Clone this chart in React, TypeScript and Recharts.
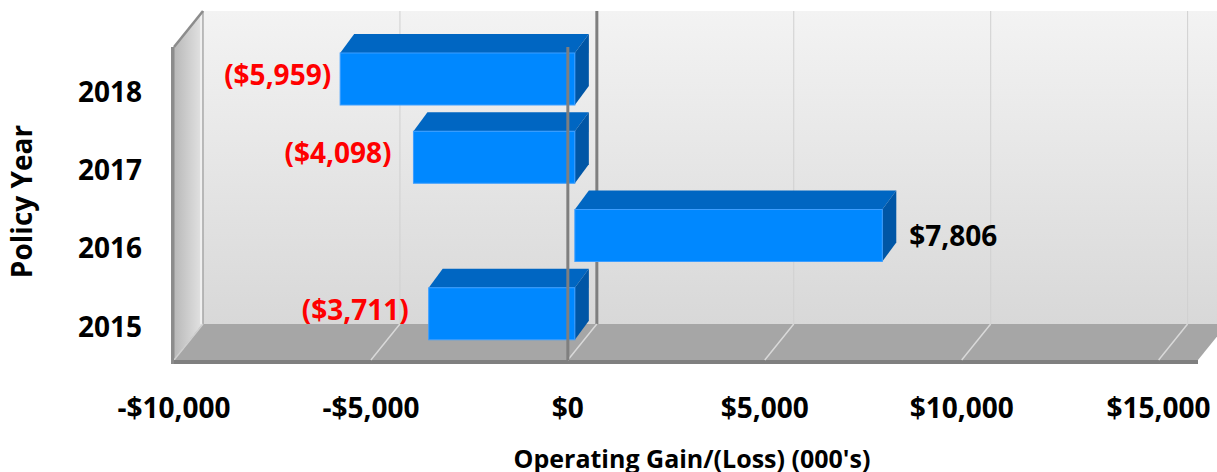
import React from 'react';
import { BarChart, Bar, XAxis, YAxis, ReferenceArea, ReferenceLine, LabelList } from 'recharts';

const YEARS = ['2018', '2017', '2016', '2015'];
const GAINS = [-5959, -4098, 7806, -3711];
const X_TICKS = [-10000, -5000, 0, 5000, 10000, 15000];
const X_DOMAIN: [number, number] = [-10000, 16000];
const X_TITLE = "Operating Gain/(Loss) (000's)";
const Y_TITLE = 'Policy Year';

const data = YEARS.map((year, i) => ({ year, value: GAINS[i] }));

const DX = 29; // room depth (x)
const DY = -36; // room depth (y)
const FX = 7; // bar front face offset from front plane
const FY = -7;
const BX = 14; // bar depth
const BY = -19;
const FONT = "'Open Sans', 'DejaVu Sans', sans-serif";
// style: gap between data label and bar, per bar (as placed in the original)
const LABEL_GAP = [9, 22, 27, 20];

const money = (v: number) => `$${Math.abs(v).toLocaleString('en-US')}`;
const fmtTick = (v: number) => (v < 0 ? `-${money(v)}` : money(v));
const fmtLabel = (v: number) => (v < 0 ? `(${money(v)})` : money(v));

const Room = (p: any) => {
  const { x, y, width: w, height: h } = p;
  const b = y + h;
  return (
    <g>
      <defs>
        <linearGradient id="wallG" x1="0" y1="0" x2="0" y2="1">
          <stop offset="0" stopColor="#F3F3F3" />
          <stop offset="1" stopColor="#D8D8D8" />
        </linearGradient>
        <linearGradient id="sideG" x1="0" y1="0" x2="1" y2="0">
          <stop offset="0" stopColor="#B8B8B8" />
          <stop offset="1" stopColor="#E4E4E4" />
        </linearGradient>
      </defs>
      <rect x={x + DX} y={y + DY} width={w} height={h} fill="url(#wallG)" />
      <polygon
        points={`${x},${y} ${x + DX},${y + DY} ${x + DX},${b + DY} ${x},${b}`}
        fill="url(#sideG)"
        stroke="#8C8C8C"
        strokeWidth={1}
      />
      <line x1={x + DX - 2} y1={y + DY} x2={x + DX - 2} y2={b + DY} stroke="#F4F4F4" strokeWidth={1.5} />
      <polygon
        points={`${x},${b} ${x + DX},${b + DY} ${x + w + DX},${b + DY} ${x + w},${b}`}
        fill="#A6A6A6"
      />
      <line x1={x} y1={b} x2={x + DX} y2={b + DY} stroke="#D0D0D0" strokeWidth={1.5} />
      <line x1={x} y1={y} x2={x + DX} y2={y + DY} stroke="#8C8C8C" strokeWidth={2.5} />
      <rect x={x - 3} y={b} width={w + 3} height={4} fill="#7F7F7F" />
      <rect x={x - 3} y={y} width={3} height={h + 4} fill="#8C8C8C" />
    </g>
  );
};

const GridShape = (isZero: boolean) => (p: any) => {
  const xs = p.x1;
  const top = Math.min(p.y1, p.y2);
  const bot = Math.max(p.y1, p.y2);
  return (
    <g>
      <line
        x1={xs + DX}
        y1={top + DY}
        x2={xs + DX}
        y2={bot + DY}
        stroke={isZero ? '#7F7F7F' : '#D0D0D0'}
        strokeWidth={isZero ? 3 : 1}
      />
      <line x1={xs + DX} y1={bot + DY} x2={xs} y2={bot} stroke="#D9D9D9" strokeWidth={1.5} />
    </g>
  );
};

const Box3D = (p: any) => {
  const l = Math.min(p.x, p.x + p.width);
  const r = Math.max(p.x, p.x + p.width);
  const t = Math.min(p.y, p.y + p.height);
  const bt = Math.max(p.y, p.y + p.height);
  const fl = l + FX;
  const fr = r + FX;
  const ft = t + FY;
  const fb = bt + FY;
  return (
    <g>
      <polygon
        points={`${fl},${ft} ${fl + BX},${ft + BY} ${fr + BX},${ft + BY} ${fr},${ft}`}
        fill="#0066C2"
      />
      <polygon
        points={`${fr},${ft} ${fr + BX},${ft + BY} ${fr + BX},${fb + BY} ${fr},${fb}`}
        fill="#0056A6"
      />
      <rect x={fl} y={ft} width={fr - fl} height={fb - ft} fill="#0088FF" stroke="#3D9EFF" strokeWidth={1} />
    </g>
  );
};

const ValueLabel = (p: any) => {
  const v = Number(p.value);
  const gap = LABEL_GAP[p.index] ?? 10;
  const l = Math.min(p.x, p.x + p.width);
  const r = Math.max(p.x, p.x + p.width);
  const cy = Math.min(p.y, p.y + p.height) + Math.abs(p.height) / 2 + FY;
  if (v < 0) {
    return (
      <text x={l + FX - gap} y={cy - 4} dy="0.35em" textAnchor="end" fill="#FF0000" fontFamily={FONT} fontWeight={700} fontSize={28}>
        {fmtLabel(v)}
      </text>
    );
  }
  return (
    <text x={r + FX + gap} y={cy + 1} dy="0.35em" textAnchor="start" fill="#000000" fontFamily={FONT} fontWeight={700} fontSize={28}>
      {fmtLabel(v)}
    </text>
  );
};

const XTick = (p: any) => (
  <text x={p.x} y={p.y + 46} dy="0.35em" textAnchor="middle" fill="#000" fontFamily={FONT} fontWeight={700} fontSize={28}>
    {fmtTick(Number(p.payload.value))}
  </text>
);

const YTick = (p: any) => (
  <text x={p.x - 32} y={p.y + 6} dy="0.35em" textAnchor="end" fill="#000" fontFamily={FONT} fontWeight={700} fontSize={28}>
    {p.payload.value}
  </text>
);

const XTitle = (p: any) => {
  const vb = p.viewBox || {};
  return (
    <text x={vb.x + vb.width / 2 + 6} y={vb.y + 99} dy="0.35em" textAnchor="middle" fill="#000" fontFamily={FONT} fontWeight={700} fontSize={25}>
      {X_TITLE}
    </text>
  );
};

const YTitle = (p: any) => {
  const vb = p.viewBox || {};
  const cx = 22;
  const cy = vb.y + vb.height / 2 - 2;
  return (
    <text x={cx} y={cy} dy="0.35em" textAnchor="middle" transform={`rotate(-90 ${cx} ${cy})`} fill="#000" fontFamily={FONT} fontWeight={700} fontSize={28}>
      {Y_TITLE}
    </text>
  );
};

export default function App() {
  return (
    <div style={{ position: 'absolute', left: 0, top: 0, width: 1217, height: 472, background: '#fff' }}>
      <BarChart
        width={1217}
        height={472}
        data={data}
        layout="vertical"
        margin={{ top: 47, right: 19, bottom: 0, left: 0 }}
        barCategoryGap="33%"
      >
        <XAxis
          type="number"
          domain={X_DOMAIN}
          ticks={X_TICKS}
          interval={0}
          height={112}
          axisLine={false}
          tickLine={false}
          tickSize={0}
          tick={<XTick />}
          label={<XTitle />}
        />
        <YAxis
          type="category"
          dataKey="year"
          width={174}
          axisLine={false}
          tickLine={false}
          tickSize={0}
          tickMargin={0}
          tick={<YTick />}
          label={<YTitle />}
        />
        <ReferenceArea x1={X_DOMAIN[0]} x2={X_DOMAIN[1]} shape={<Room />} ifOverflow="visible" zIndex={-300} />
        {X_TICKS.filter((t) => t !== X_DOMAIN[0]).map((t) => (
          <ReferenceLine key={t} x={t} shape={GridShape(t === 0)} ifOverflow="visible" zIndex={-200} />
        ))}
        <Bar dataKey="value" barSize={52} shape={<Box3D />} isAnimationActive={false}>
          <LabelList dataKey="value" content={<ValueLabel />} />
        </Bar>
        <ReferenceLine x={0} stroke="#7F7F7F" strokeWidth={3} zIndex={350} />
      </BarChart>
    </div>
  );
}
